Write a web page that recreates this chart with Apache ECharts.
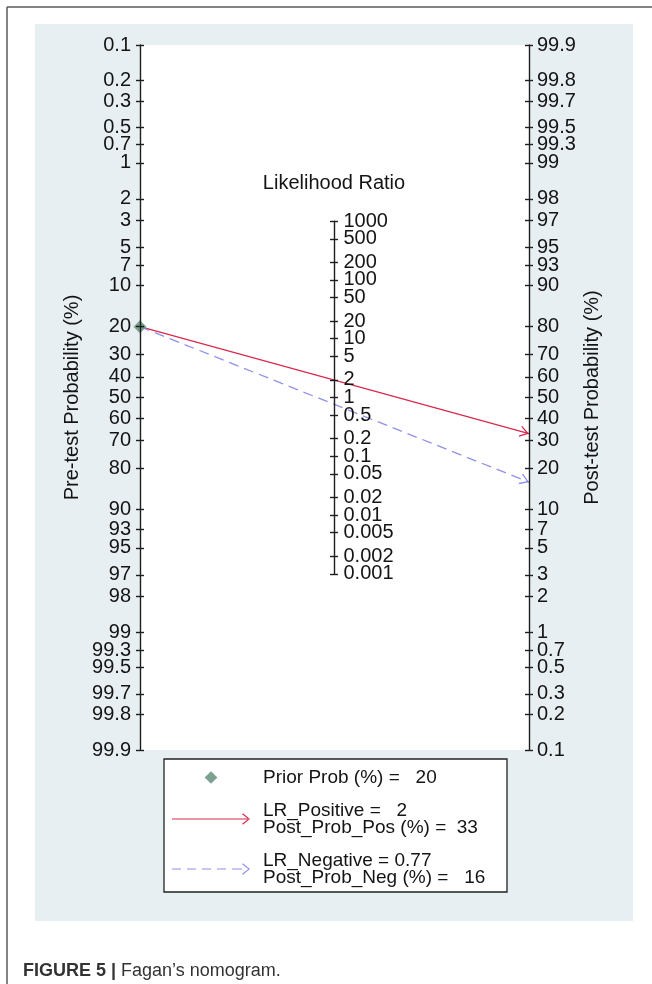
<!DOCTYPE html>
<html>
<head>
<meta charset="utf-8">
<script src="https://cdn.jsdelivr.net/npm/echarts@6/dist/echarts.min.js"></script>
<style>
html,body{margin:0;padding:0;background:#fff;}
#c{width:652px;height:984px;}
</style>
</head>
<body>
<div id="c"></div>
<script>
// ---------------- data ----------------
const preTicks  = [0.1,0.2,0.3,0.5,0.7,1,2,3,5,7,10,20,30,40,50,60,70,80,90,93,95,97,98,99,99.3,99.5,99.7,99.8,99.9];
const postTicks = [99.9,99.8,99.7,99.5,99.3,99,98,97,95,93,90,80,70,60,50,40,30,20,10,7,5,3,2,1,0.7,0.5,0.3,0.2,0.1];
const lrTicks   = [1000,500,200,100,50,20,10,5,2,1,0.5,0.2,0.1,0.05,0.02,0.01,0.005,0.002,0.001];
const priorProb = [20];
const lrNames   = ['LR_Positive', 'LR_Negative'];
const lrValues  = [2, 0.77];
const postNames = ['Post_Prob_Pos', 'Post_Prob_Neg'];
const postProbs = [33, 16];

// ---------------- styles ----------------
const FONT = "'Liberation Sans', Arial, Helvetica, sans-serif";
const INK = '#141414';
const AXIS = '#1e1e1e';
const PRIOR_COLOR = '#5c8a74';
const LINE_COLORS = ['#d92a4b', '#9090e6'];
const LINE_TYPES = ['solid', [10, 6]];

// ---------------- scales ----------------
const logit = p => Math.log(p / (100 - p));
const LIM = Math.log(999);                 // logit range of 0.1% .. 99.9%
const G = {left: 140, top: 45, width: 389, height: 705};
const uToY = u => G.top + (LIM - u) / (2 * LIM) * G.height;
const lrMax = Math.max(...lrTicks), lrMin = Math.min(...lrTicks);
const lrTop = uToY(Math.log(lrMax) / 2);
const lrBot = uToY(Math.log(lrMin) / 2);

function labeler(list, f) {
  return function (v) {
    let best = list[0], d = Infinity;
    for (const t of list) { const e = Math.abs(f(t) - v); if (e < d) { d = e; best = t; } }
    return String(best);
  };
}

const lineSt = {color: AXIS, width: 1.4};
const lblBase = {fontSize: 20, lineHeight: 13, color: INK, fontFamily: FONT, hideOverlap: false, showMinLabel: true, showMaxLabel: true};
const nameSt = {fontSize: 20, color: INK, fontFamily: FONT};

function probAxis(list, f, pos, inverse, withLabels, inside, extra) {
  const vals = list.map(f);
  return Object.assign({
    type: 'value', gridIndex: 0, position: pos, inverse: inverse,
    min: Math.min(...vals), max: Math.max(...vals), z: 5,
    splitLine: {show: false},
    axisLine: {show: withLabels, onZero: false, lineStyle: lineSt},
    axisTick: {show: true, inside: inside, length: 4, lineStyle: lineSt, customValues: vals},
    axisLabel: withLabels
      ? Object.assign({show: true, margin: pos === 'left' ? 9 : 8, customValues: vals, formatter: labeler(list, f)}, lblBase)
      : {show: false}
  }, extra || {});
}

// LR axis: labels split over two overlaid axes (alternate ticks) so no neighbour label is dropped
const lrF = v => Math.log10(v);
const lrAll = lrTicks.map(lrF);
function lrAxis(subset, showLine, withLabels, inside, withName) {
  const vals = subset.map(lrF);
  const a = {
    type: 'value', gridIndex: 1, position: 'left',
    min: Math.min(...lrAll), max: Math.max(...lrAll), z: 5,
    splitLine: {show: false},
    axisLine: {show: showLine, onZero: false, lineStyle: lineSt},
    axisTick: {show: true, inside: inside, length: 4, lineStyle: lineSt, customValues: vals},
    axisLabel: withLabels
      ? Object.assign({show: true, inside: true, margin: 9.5, customValues: vals, formatter: labeler(lrTicks, lrF)}, lblBase)
      : {show: false}
  };
  if (withName) {
    Object.assign(a, {name: 'Likelihood Ratio', nameLocation: 'end', nameGap: 28,
      nameTextStyle: nameSt, nameMoveOverlap: false});
  }
  return a;
}
const lrEven = lrTicks.filter((t, i) => i % 2 === 0);
const lrOdd  = lrTicks.filter((t, i) => i % 2 === 1);

// legend
const ARROW_SYMBOL = 'path://M0,0M20,20M10,10L15.6,18.6L14.5,19.3L10,12.4L5.5,19.3L4.4,18.6Z';
const ICON_DIAMOND = 'path://M5,-0.5M5,10.5M5,0L10,5L5,10L0,5Z';
const CHEV = 'M78,7L70.9,1.3L70.1,2.3L76.3,7L70.1,11.7L70.9,12.7Z';
const ICON_SOLID = 'path://M0,0M78,14M0,6.4L76.5,6.4L76.5,7.6L0,7.6Z' + CHEV;
const ICON_DASH = 'path://M0,0M78,14M0,6.4h9v1.2h-9Z M15,6.4h9v1.2h-9Z M30,6.4h9v1.2h-9Z M45,6.4h9v1.2h-9Z M60,6.4h10v1.2h-10Z' + CHEV;
const ICONS = [ICON_SOLID, ICON_DASH];

const legendText = {
  'Prior': 'Prior Prob (%) =   ' + priorProb[0],
  'LR_Positive': lrNames[0] + ' =   ' + lrValues[0] + '\n' + postNames[0] + ' (%) =  ' + postProbs[0],
  'LR_Negative': lrNames[1] + ' = ' + lrValues[1] + '\n' + postNames[1] + ' (%) =   ' + postProbs[1]
};

const series = [{
  type: 'scatter', name: 'Prior', xAxisIndex: 0, yAxisIndex: 0,
  data: priorProb.map(p => [0, logit(p)]),
  symbol: 'diamond', symbolSize: 13, itemStyle: {color: PRIOR_COLOR},
  clip: false, silent: true, z: 3
}];
lrNames.forEach((nm, i) => {
  series.push({
    type: 'lines', name: nm, coordinateSystem: 'cartesian2d', xAxisIndex: 0, yAxisIndex: 2,
    data: [{coords: [[0, -logit(priorProb[0])], [1, logit(postProbs[i])]]}],
    symbol: ['none', ARROW_SYMBOL], symbolSize: 20,
    lineStyle: {color: LINE_COLORS[i], width: 1.3, opacity: 1, type: LINE_TYPES[i], curveness: 0},
    clip: false, silent: true, z: 3
  });
});

const option = {
  backgroundColor: '#ffffff',
  animation: false,
  textStyle: {fontFamily: FONT},
  grid: [
    {left: G.left, top: G.top, width: G.width, height: G.height, show: true,
     backgroundColor: '#ffffff', borderWidth: 0, containLabel: false, outerBoundsMode: 'none'},
    {left: 334, width: 1, top: lrTop, height: lrBot - lrTop, show: false,
     containLabel: false, outerBoundsMode: 'none'}
  ],
  xAxis: [
    {type: 'value', gridIndex: 0, min: 0, max: 1, show: false, axisLine: {onZero: false}},
    {type: 'value', gridIndex: 1, min: 0, max: 1, show: false, axisLine: {onZero: false}}
  ],
  yAxis: [
    probAxis(preTicks, logit, 'left', true, true, false, {
      name: 'Pre-test Probability (%)', nameLocation: 'middle', nameGap: 58, nameRotate: 90,
      nameTextStyle: nameSt, nameMoveOverlap: false}),
    probAxis(preTicks, logit, 'left', true, false, true),
    probAxis(postTicks, logit, 'right', false, true, false, {
      name: 'Post-test Probability (%)', nameLocation: 'middle', nameGap: 53, nameRotate: 90,
      nameTextStyle: nameSt, nameMoveOverlap: false}),
    probAxis(postTicks, logit, 'right', false, false, true),
    lrAxis(lrEven, true, true, false, true),
    lrAxis(lrOdd, false, true, false, false),
    lrAxis(lrTicks, false, false, true, false)
  ],
  legend: {
    orient: 'vertical', left: 164, top: 759,
    padding: [9, 8, 5, 8], itemGap: 14, itemWidth: 78, itemHeight: 14,
    backgroundColor: '#ffffff', borderColor: '#222', borderWidth: 1.3, borderRadius: 0,
    selectedMode: false, symbolKeepAspect: true,
    textStyle: {fontSize: 19, lineHeight: 17, color: INK, fontFamily: FONT, padding: [0, 0, 0, 8], width: 236},
    formatter: name => legendText[name],
    data: [
      {name: 'Prior', icon: ICON_DIAMOND, itemStyle: {color: PRIOR_COLOR, borderWidth: 0}},
      {name: lrNames[0], icon: ICONS[0], itemStyle: {color: LINE_COLORS[0], borderWidth: 0}},
      {name: lrNames[1], icon: ICONS[1], itemStyle: {color: LINE_COLORS[1], borderWidth: 0}}
    ]
  },
  graphic: [
    {type: 'rect', z: -10, silent: true, shape: {x: 35, y: 24, width: 598, height: 897}, style: {fill: '#e8eff2'}},
    {type: 'line', z: -9, silent: true, shape: {x1: 7, y1: 7, x2: 652, y2: 7}, style: {stroke: '#5a5a5a', lineWidth: 1.5}},
    {type: 'line', z: -9, silent: true, shape: {x1: 7, y1: 7, x2: 7, y2: 984}, style: {stroke: '#5a5a5a', lineWidth: 1.5}},
    {type: 'text', silent: true, x: 23, y: 971.5,
     style: {text: '{b|FIGURE 5 |} Fagan\u2019s nomogram.', verticalAlign: 'middle',
       fontSize: 18, fontFamily: FONT, fill: '#333',
       rich: {b: {fontSize: 18, fontFamily: FONT, fontWeight: 'bold', fill: '#333'}}}}
  ],
  series: series
};

const chart = echarts.init(document.getElementById('c'), null, {renderer: 'canvas'});
chart.setOption(option);
</script>
</body>
</html>
